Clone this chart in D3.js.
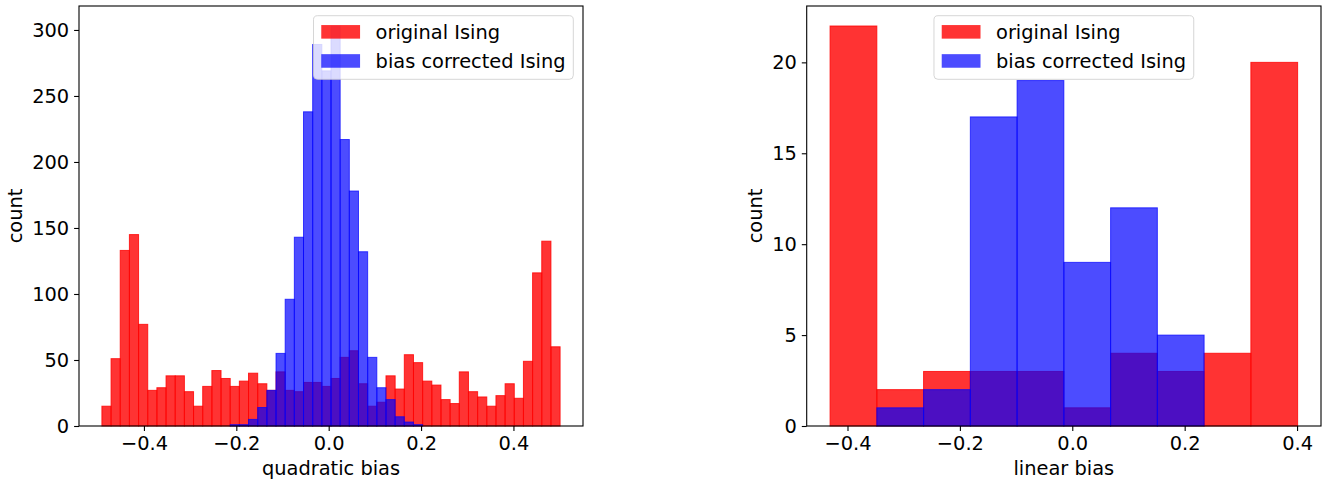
<!DOCTYPE html>
<html>
<head>
<meta charset="utf-8">
<script src="https://cdn.jsdelivr.net/npm/d3@7"></script>
<style>
  body { margin: 0; background: #fff; }
  text { font-family: "DejaVu Sans", sans-serif; }
</style>
</head>
<body>
<div id="chart"></div>
<script>
// ---- data ----
// quadratic bias histogram: 50 shared bins between these edges
const quadEdges = [-0.491, 0.501];
const quadOriginal = [15, 51, 133, 145, 77, 27, 29, 38, 38, 26,
                      15, 30, 42, 36, 30, 34, 40, 32, 27, 41,
                      27, 26, 33, 33, 30, 36, 52, 57, 32, 15,
                      18, 38, 28, 54, 48, 34, 31, 20, 17, 41,
                      26, 22, 15, 23, 32, 21, 49, 116, 140, 60];
const quadCorrected = [0, 0, 0, 0, 0, 0, 0, 0, 0, 0,
                       0, 0, 0, 0, 1, 1, 5, 14, 27, 55,
                       96, 143, 238, 289, 269, 303, 217, 178, 132, 52,
                       29, 20, 7, 3, 1, 0, 0, 0, 0, 0,
                       0, 0, 0, 0, 0, 0, 0, 0, 0, 0];
// linear bias histogram: 10 shared bins
const linEdges = [-0.431, 0.401];
const linOriginal = [22, 2, 3, 3, 3, 1, 4, 3, 4, 20];
const linCorrected = [0, 1, 2, 17, 19, 9, 12, 5, 0, 0];

const xTicks = [-0.4, -0.2, 0.0, 0.2, 0.4];
const quadYTicks = [0, 50, 100, 150, 200, 250, 300];
const linYTicks = [0, 5, 10, 15, 20];
const seriesNames = ["original Ising", "bias corrected Ising"];

// ---- layout ----
const W = 1325, H = 482;
const fs = 19.4;          // 14pt at 100 dpi
const tickLen = 4.9, tickPad = 4.9;

const svg = d3.select("#chart").append("svg")
    .attr("width", W)
    .attr("height", H)
    .style("background", "#fff");

function drawHist(opt)
{
    const n = opt.red.length;
    const binW = (opt.edges[1] - opt.edges[0]) / n;
    const span = opt.edges[1] - opt.edges[0];

    // matplotlib style autoscale: 5% margins
    const xScale = d3.scaleLinear()
        .domain([opt.edges[0] - 0.05 * span, opt.edges[1] + 0.05 * span])
        .range([opt.left, opt.right]);
    const yMax = d3.max(opt.red.concat(opt.blue)) * 1.05;
    const yScale = d3.scaleLinear().domain([0, yMax]).range([opt.bottom, opt.top]);

    const g = svg.append("g");

    function bars(counts, color, alpha)
    {
        g.append("g").selectAll("rect")
            .data(counts.map((c, i) => ({c: c, x0: opt.edges[0] + i * binW, x1: opt.edges[0] + (i + 1) * binW})))
            .join("rect")
            .filter(d => d.c > 0)
            .attr("x", d => xScale(d.x0))
            .attr("width", d => xScale(d.x1) - xScale(d.x0))
            .attr("y", d => yScale(d.c))
            .attr("height", d => yScale(0) - yScale(d.c))
            .attr("fill", color)
            .attr("fill-opacity", alpha)
            .attr("stroke", color)
            .attr("stroke-opacity", alpha)
            .attr("stroke-width", 1);
    }
    bars(opt.red, "red", 0.8);
    bars(opt.blue, "blue", 0.7);

    // axes
    const xAxis = d3.axisBottom(xScale).tickValues(xTicks)
        .tickFormat(d3.format(".1f")).tickSize(tickLen).tickPadding(tickPad).tickSizeOuter(0);
    const yAxis = d3.axisLeft(yScale).tickValues(opt.yTicks)
        .tickSize(tickLen).tickPadding(tickPad).tickSizeOuter(0);

    const gx = g.append("g")
        .attr("transform", `translate(0,${opt.bottom})`)
        .call(xAxis);
    const gy = g.append("g")
        .attr("transform", `translate(${opt.left},0)`)
        .call(yAxis);
    [gx, gy].forEach(a => {
        a.select(".domain").remove();
        a.selectAll("line").attr("stroke", "#000").attr("stroke-width", 1.1);
        a.selectAll("text").attr("fill", "#000").style("font-size", fs + "px")
            .style("font-family", "DejaVu Sans");
    });

    // spines
    g.append("rect")
        .attr("x", opt.left).attr("y", opt.top)
        .attr("width", opt.right - opt.left).attr("height", opt.bottom - opt.top)
        .attr("fill", "none").attr("stroke", "#000").attr("stroke-width", 1.1);

    // axis labels
    g.append("text")
        .attr("x", (opt.left + opt.right) / 2)
        .attr("y", 475)
        .attr("text-anchor", "middle")
        .style("font-size", fs + "px")
        .text(opt.xLabel);

    const tickBox = gy.node().getBBox();
    const ylx = opt.left + tickBox.x - 5.6 - 0.236 * fs;
    g.append("text")
        .attr("transform", `translate(${ylx},${(opt.top + opt.bottom) / 2}) rotate(-90)`)
        .attr("text-anchor", "middle")
        .style("font-size", fs + "px")
        .text("count");

    // legend
    const lg = g.append("g");
    const box = lg.append("rect");
    const items = lg.selectAll("g.item")
        .data([{name: seriesNames[0], color: "red", a: 0.8}, {name: seriesNames[1], color: "blue", a: 0.7}])
        .join("g").attr("class", "item");
    items.append("rect")
        .attr("x", 0.4 * fs)
        .attr("y", (d, i) => 0.4 * fs + 1.6 + i * 1.5 * fs)
        .attr("width", 2 * fs)
        .attr("height", 0.7 * fs)
        .attr("fill", d => d.color)
        .attr("fill-opacity", d => d.a);
    items.append("text")
        .attr("x", 3.2 * fs)
        .attr("y", (d, i) => 0.4 * fs + 15.5 + i * 1.5 * fs)
        .style("font-size", fs + "px")
        .text(d => d.name);
    let tw = 0;
    items.selectAll("text").each(function() { tw = Math.max(tw, this.getComputedTextLength()); });
    const lw = 3.6 * fs + tw, lh = 63.6;
    box.attr("width", lw).attr("height", lh)
        .attr("rx", 4).attr("ry", 4)
        .attr("fill", "#fff").attr("fill-opacity", 0.8)
        .attr("stroke", "#ccc").attr("stroke-opacity", 0.8).attr("stroke-width", 1);
    const lx = opt.legend == "center"
        ? (opt.left + opt.right) / 2 - lw / 2
        : opt.right - 0.5 * fs - lw;
    lg.attr("transform", `translate(${lx},${opt.top + 0.5 * fs})`);
}

drawHist({
    left: 79, right: 583, top: 6, bottom: 426,
    edges: quadEdges, red: quadOriginal, blue: quadCorrected,
    yTicks: quadYTicks, xLabel: "quadratic bias", legend: "right"
});
drawHist({
    left: 806.7, right: 1321, top: 6, bottom: 426,
    edges: linEdges, red: linOriginal, blue: linCorrected,
    yTicks: linYTicks, xLabel: "linear bias", legend: "center"
});
</script>
</body>
</html>
